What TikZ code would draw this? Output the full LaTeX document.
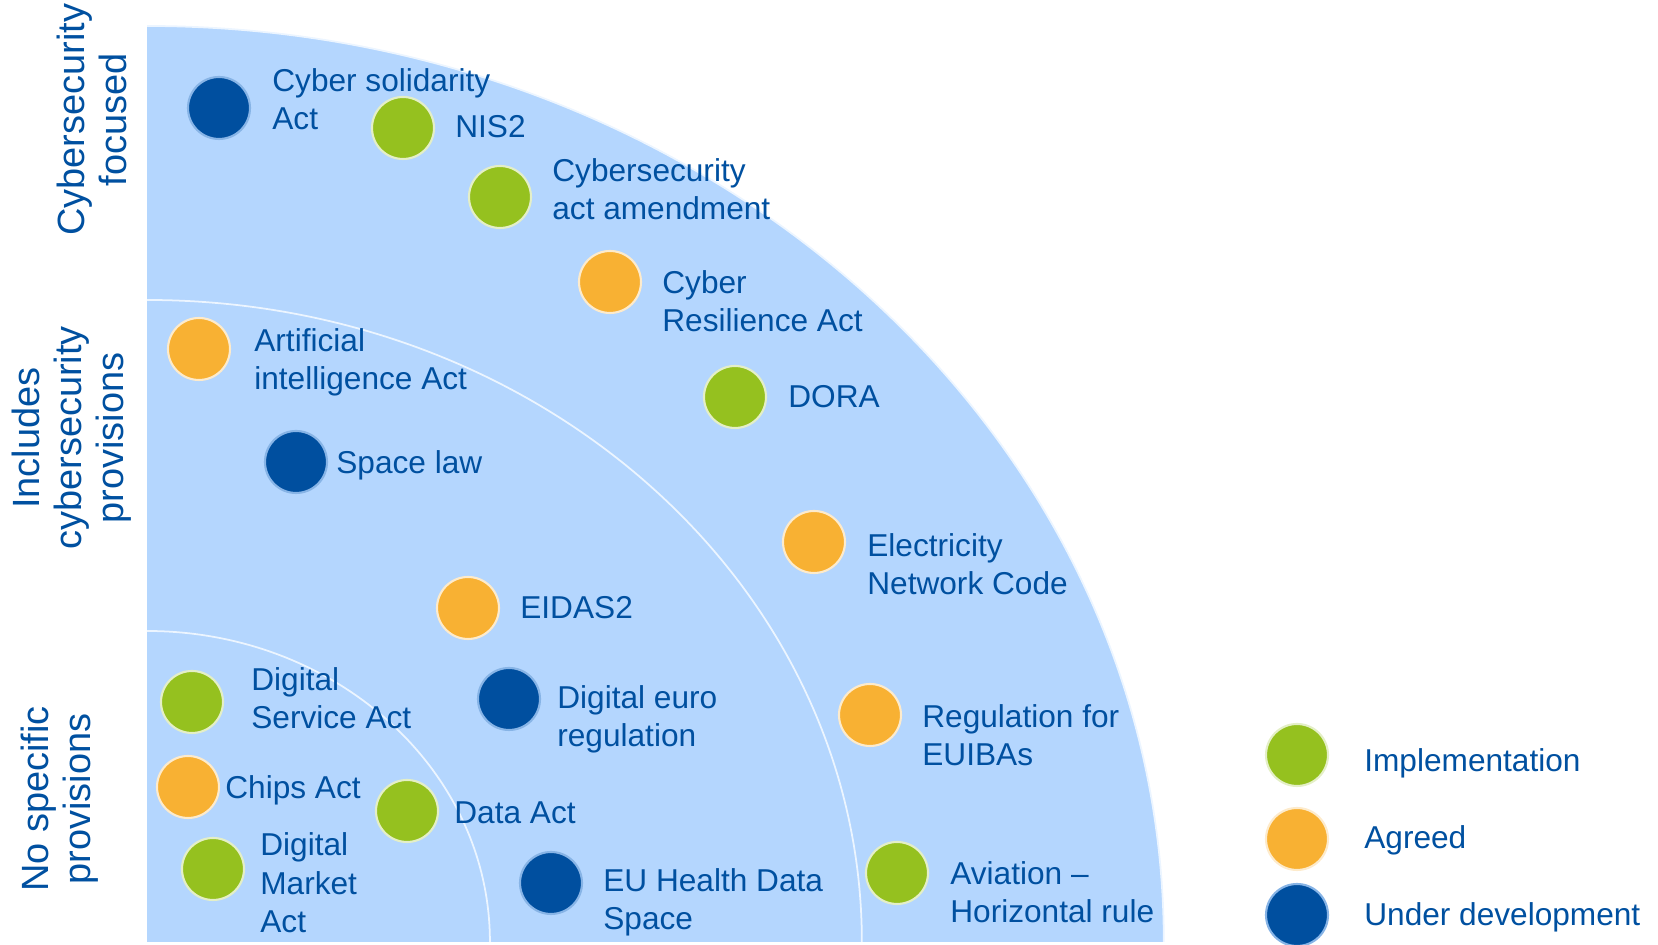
\documentclass[tikz,border=0pt]{standalone}
\usepackage{fontspec}
\setmainfont{Liberation Sans}
\usepackage{xcolor}
\usepackage{tikz}

\definecolor{txtblue}{RGB}{0,80,160}
\definecolor{sectorblue}{RGB}{180,214,254}
\definecolor{devblue}{RGB}{0,79,159}
\definecolor{implgreen}{RGB}{149,193,31}
\definecolor{agreedorange}{RGB}{248,177,51}

\tikzset{
  dot/.style={circle, minimum size=1.24cm, inner sep=0pt, line width=1.2pt},
  impl/.style={dot, fill=implgreen, draw=implgreen!25!white},
  agreed/.style={dot, fill=agreedorange, draw=agreedorange!25!white},
  underdev/.style={dot, fill=devblue, draw=devblue!25!sectorblue},
  lbl/.style={anchor=west, align=left, inner sep=0pt, text=txtblue,
    font=\fontsize{18}{21.8}\selectfont},
  side/.style={rotate=90, align=center, inner sep=0pt, text=txtblue,
    font=\fontsize{21.6}{23.8}\selectfont},
  ring/.style={draw=white!75!sectorblue, line width=1pt}
}

\begin{document}
\begin{tikzpicture}[x=0.02cm, y=0.02cm]
\useasboundingbox (0,0) rectangle (1658,945);

% the quarter with its three bands
\fill[sectorblue] (147,3) -- (147,919) arc[start angle=90, end angle=0, x radius=20.34cm, y radius=18.32cm] -- cycle;
\draw[ring] (147,919) arc[start angle=90, end angle=0, x radius=20.34cm, y radius=18.32cm];
\draw[ring] (147,645) arc[start angle=90, end angle=0, x radius=14.3cm, y radius=12.84cm];
\draw[ring] (147,314) arc[start angle=90, end angle=0, x radius=6.86cm, y radius=6.22cm];

% band names
\node[side] (focus) at (92,825) {Cybersecurity\\focused};
\node[side] (incl) at (72,507) {Includes\\cybersecurity\\provisions};
\node[side] (nospec) at (60,146) {No specific\\provisions};

% outer band
\node[underdev] (csa) at (219,837) {};
\node[lbl] (csaT) at (272,846) {Cyber solidarity\\Act};
\node[impl] (nis) at (403,817) {};
\node[lbl] (nisT) at (455,818) {NIS2};
\node[impl] (caa) at (500,748) {};
\node[lbl] (caaT) at (552,756) {Cybersecurity\\act amendment};
\node[agreed] (cra) at (610,663) {};
\node[lbl] (craT) at (662,644) {Cyber\\Resilience Act};

% middle band
\node[agreed] (aia) at (199,596) {};
\node[lbl] (aiaT) at (254,583) {Artificial\\intelligence Act};
\node[impl] (dora) at (735,548) {};
\node[lbl] (doraT) at (788,548) {DORA};
\node[underdev] (space) at (296,483) {};
\node[lbl] (spaceT) at (336,480) {Space law};
\node[agreed] (enc) at (814,403) {};
\node[lbl] (encT) at (867,381) {Electricity\\Network Code};
\node[agreed] (eidas) at (468,337) {};
\node[lbl] (eidasT) at (520,337) {EIDAS2};
\node[underdev] (deuro) at (509,246) {};
\node[lbl] (deuroT) at (557,226) {Digital euro\\regulation};
\node[agreed] (euiba) at (870,230) {};
\node[lbl] (euibaT) at (922,210) {Regulation for\\EUIBAs};
\node[underdev] (ehds) at (551,62) {};
\node[lbl] (ehdsT) at (603,43) {EU Health Data\\Space};
\node[impl] (avia) at (897,72) {};
\node[lbl] (aviaT) at (950,53) {Aviation --\\Horizontal rule};

% inner band
\node[impl] (dsa) at (192,243) {};
\node[lbl] (dsaT) at (251,247) {Digital\\Service Act};
\node[agreed] (chips) at (188,158) {};
\node[lbl] (chipsT) at (225,155) {Chips Act};
\node[impl] (data) at (407,134) {};
\node[lbl] (dataT) at (454,132) {Data Act};
\node[impl] (dma) at (213,76) {};
\node[lbl] (dmaT) at (260,62) {Digital\\Market\\Act};

% legend
\node[impl] (legImpl) at (1297,190) {};
\node[lbl] (legImplT) at (1364,182) {Implementation};
\node[agreed] (legAgr) at (1297,106) {};
\node[lbl] (legAgrT) at (1364,105) {Agreed};
\node[underdev] (legDev) at (1297,30) {};
\node[lbl] (legDevT) at (1364,28) {Under development};
\end{tikzpicture}
\end{document}
